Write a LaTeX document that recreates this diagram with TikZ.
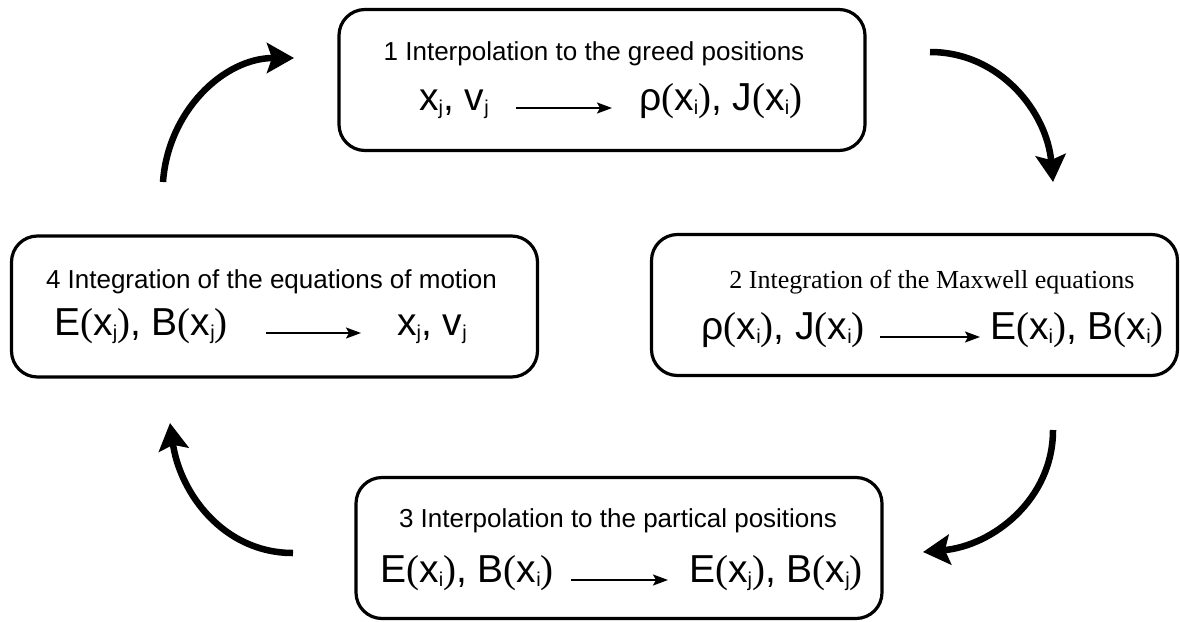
\documentclass[tikz,border=0pt]{standalone}
\usepackage{fontspec}
\setmainfont{Liberation Sans}
\newfontfamily\serif{Liberation Serif}
\usetikzlibrary{arrows.meta,positioning}
\newcommand{\lp}{{\serif(}}
\newcommand{\rp}{{\serif)}}
\newcommand{\dn}[1]{\raisebox{-0.1em}{\fontsize{20pt}{20pt}\selectfont #1}}
\newcommand{\xsub}[1]{x\dn{#1}}
\tikzset{box/.style={draw=black,rounded corners=26pt,line width=3.2pt,minimum width=526pt,minimum height=141pt},title/.style={font=\fontsize{26pt}{30pt}\selectfont,inner sep=0pt},formula/.style={font=\fontsize{39pt}{45pt}\selectfont,inner sep=0pt,text height=0.72em,text depth=0.22em},flow/.style={-{Stealth[length=27pt,width=30pt,inset=5pt]},line width=6.5pt},inarr/.style={-{Stealth[length=15pt,width=11pt,inset=3pt]},line width=1.8pt}}

\begin{document}
\begin{tikzpicture}[x=1pt,y=-1pt]
\useasboundingbox (0,0) rectangle (1180,621);
\node[box] (b1) at (602,80) {};
\node[box] (b2) at (914.5,305) {};
\node[box] (b3) at (619,548) {};
\node[box] (b4) at (274.5,306.5) {};
\node[title] (t1) at (594,54) {1 Interpolation to the greed positions};
\node[title,font=\fontsize{26pt}{30pt}\serif] (t2) at (932,282) {2 Integration of the Maxwell equations};
\node[title] (t3) at (618,521) {3 Interpolation to the partical positions};
\node[title] (t4) at (271.5,282) {4 Integration of the equations of motion};
\node[formula,anchor=east] (l1) at (489,108) {\xsub{j}, v\dn{j}};
\node[formula,anchor=west] (r1) at (639,108) {ρ\lp\xsub{i}\rp, J\lp\xsub{i}\rp};
\node[formula,anchor=east] (l2) at (865,337) {ρ\lp\xsub{i}\rp, J\lp\xsub{i}\rp};
\node[formula,anchor=west] (r2) at (990,337) {E\lp\xsub{i}\rp, B\lp\xsub{i}\rp};
\node[formula,anchor=east] (l3) at (554,580) {E\lp\xsub{i}\rp, B\lp\xsub{i}\rp};
\node[formula,anchor=west] (r3) at (689,580) {E\lp\xsub{j}\rp, B\lp\xsub{j}\rp};
\node[formula,anchor=east] (l4) at (228,333) {E\lp\xsub{j}\rp, B\lp\xsub{j}\rp};
\node[formula,anchor=west] (r4) at (397,333) {\xsub{j}, v\dn{j}};
\draw[inarr,shorten <=27pt,shorten >=27pt] (l1) -- (r1);
\draw[inarr,shorten <=15pt,shorten >=10pt] (l2) -- (r2);
\draw[inarr,shorten <=17pt,shorten >=21pt] (l3) -- (r3);
\draw[inarr,shorten <=38pt,shorten >=36pt] (l4) -- (r4);
\coordinate (c41) at (163,182);
\coordinate (c14) at (294,58);
\coordinate (c12) at (930,52);
\coordinate (c21) at (1053,182);
\coordinate (c23) at (1053,430);
\coordinate (c32) at (923,552);
\coordinate (c34) at (293,553);
\coordinate (c43) at (170,423);
\draw[flow] (c41) to[out=86,in=180] (c14);
\draw[flow] (c12) to[out=0,in=95] (c21);
\draw[flow] (c23) to[out=-90,in=5] (c32);
\draw[flow] (c34) to[out=180,in=-82] (c43);
\end{tikzpicture}
\end{document}
